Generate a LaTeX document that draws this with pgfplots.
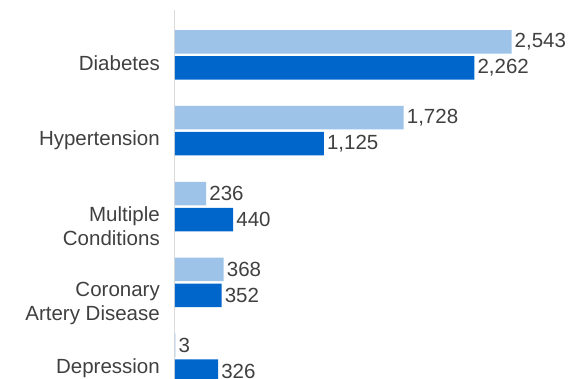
\documentclass[border=0pt]{standalone}
\usepackage{pgfplots}
\pgfplotsset{compat=1.18}
\usepackage{fontspec}
\setmainfont{Liberation Sans}
\definecolor{lightbar}{RGB}{157,195,232}
\definecolor{darkbar}{RGB}{0,102,204}
\definecolor{lbl}{RGB}{64,64,64}
\definecolor{axl}{RGB}{217,217,217}
\begin{document}
\begin{tikzpicture}
\useasboundingbox (-175pt,0pt) rectangle (397pt,379pt);
\begin{axis}[
  at={(0pt,0pt)}, anchor=south west,
  scale only axis, width=397pt, height=369pt,
  xbar, bar width=23.5pt,
  xmin=0, xmax=3000,
  ymin=-0.277, ymax=4.594,
  axis x line=none,
  axis y line*=left,
  y axis line style={draw=axl, line width=1pt},
  ytick={0,1,2,3,4},
  yticklabels={Depression, Coronary\\Artery Disease, Multiple\\Conditions, Hypertension, Diabetes},
  major tick length=0pt,
  yticklabel style={anchor=north east, align=right, inner sep=0pt, xshift=-15pt, font=\fontsize{20.5}{24}\selectfont, text=lbl},
  /pgf/number format/assume math mode=true,
  /pgf/number format/1000 sep={,},
  nodes near coords,
  nodes near coords style={font=\fontsize{20.5}{24}\selectfont, text=lbl, anchor=west, inner sep=3pt},
  clip=true,
]
\addplot[fill=lightbar, draw=none, bar shift=13pt] coordinates {(2543,4) (1728,3) (236,2) (368,1) (3,0)};
\addplot[fill=darkbar, draw=none, bar shift=-13pt] coordinates {(2262,4) (1125,3) (440,2) (352,1) (326,0)};
\end{axis}
\end{tikzpicture}
\end{document}
